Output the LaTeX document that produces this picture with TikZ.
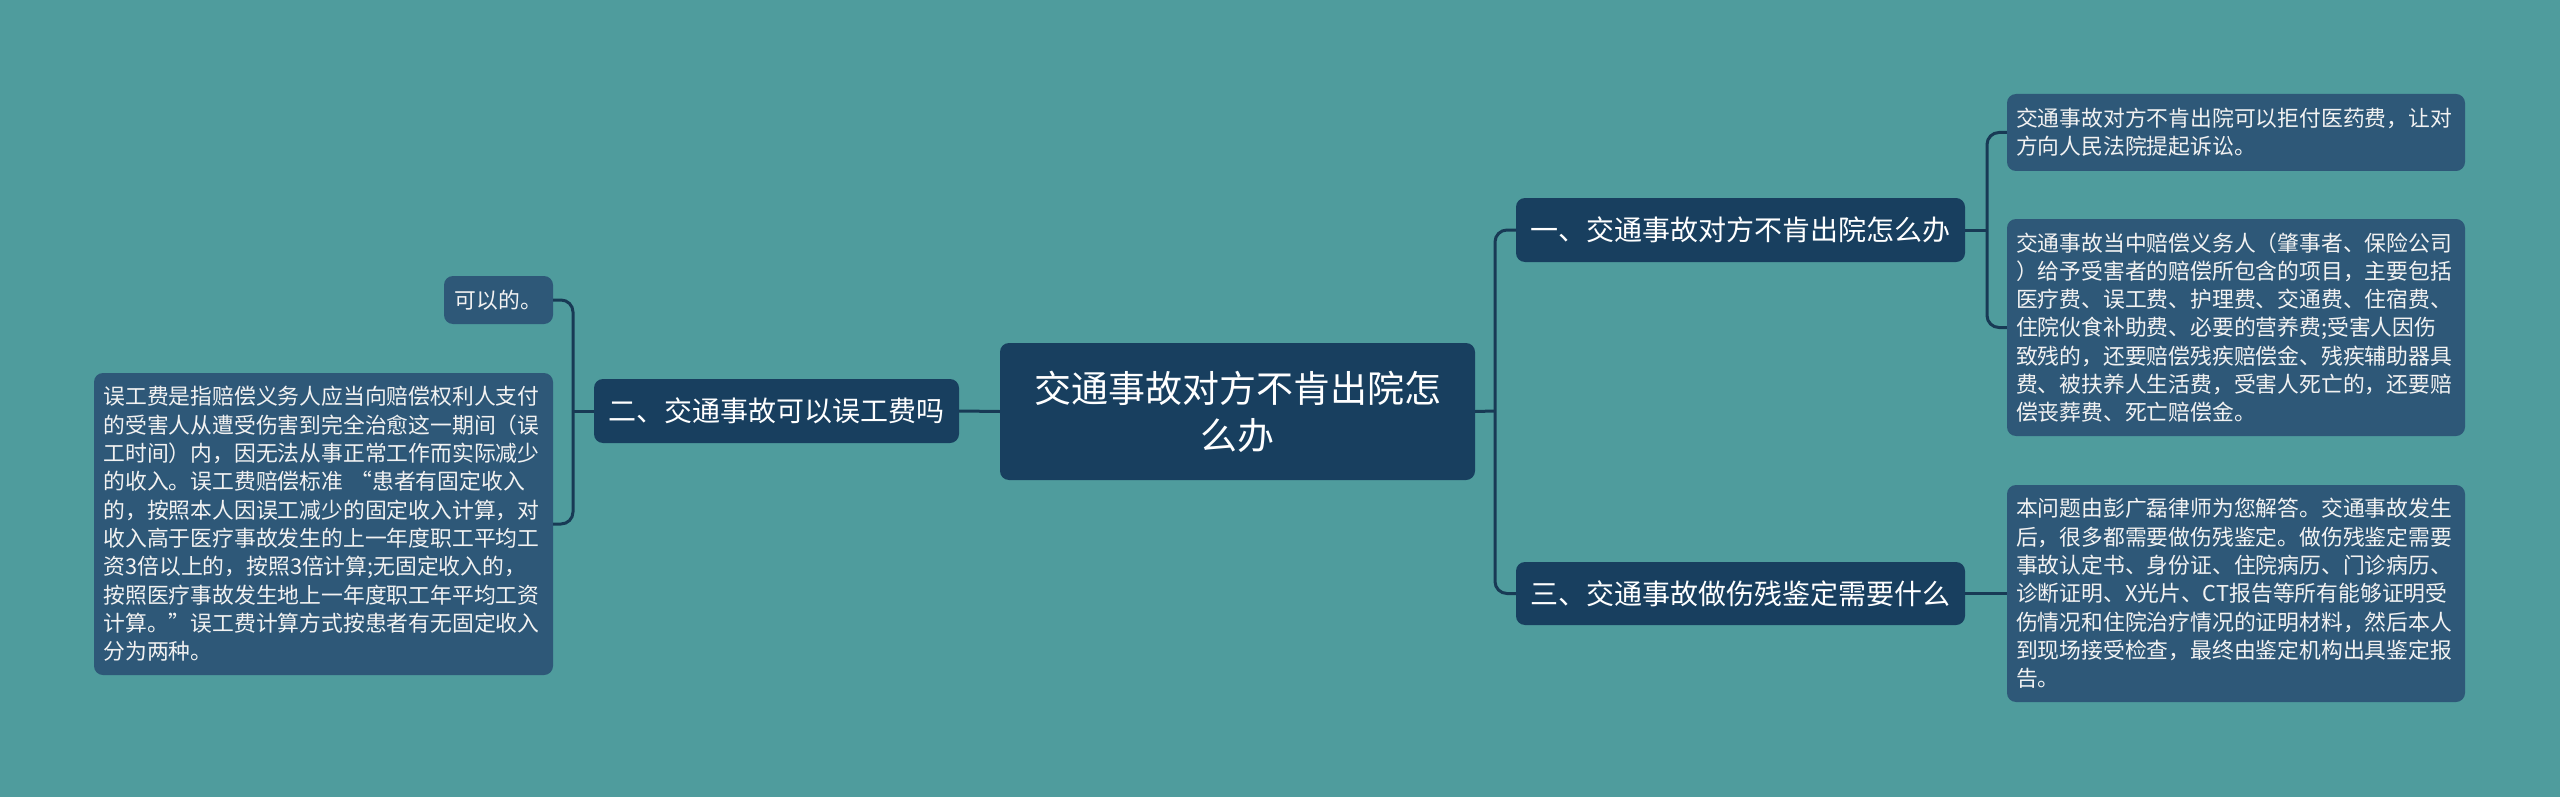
\documentclass[tikz,border=0pt]{standalone}
\usepackage{fontspec}
\setmainfont{Noto Sans CJK SC}
\definecolor{bg}{HTML}{4F9C9D}
\definecolor{dark}{HTML}{183F5F}
\definecolor{leafc}{HTML}{2E5878}
\definecolor{linec}{HTML}{183A55}
\tikzset{
  x=1pt, y=-1pt,
  conn/.style={draw=linec, line width=3pt, rounded corners=12pt},
  mainbox/.style={fill=dark, rounded corners=9pt, text=white, inner sep=0pt, align=center,
    font=\fontsize{37}{47}\selectfont},
  branchbox/.style={fill=dark, rounded corners=9pt, text=white, inner sep=0pt, align=center,
    font=\fontsize{28}{34}\selectfont},
  leafbox/.style={fill=leafc, rounded corners=9pt, text=white!95!black, inner sep=0pt, align=left,
    font=\fontsize{21.8}{28.3}\selectfont},
}
\begin{document}
\begin{tikzpicture}
\fill[bg] (0,0) rectangle (2560,797);
\useasboundingbox (0,0) rectangle (2560,797);

\node[mainbox, minimum width=475pt, minimum height=137pt] (c) at (1237.5,411.5)
  {交通事故对方不肯出院怎\\么办};

\node[branchbox, minimum width=449pt, minimum height=64pt] (b1) at (1740.5,230)
  {一、交通事故对方不肯出院怎么办};
\node[branchbox, minimum width=449pt, minimum height=63pt] (b3) at (1740.5,593.5)
  {三、交通事故做伤残鉴定需要什么};
\node[branchbox, minimum width=365pt, minimum height=64pt] (b2) at (776.5,411)
  {二、交通事故可以误工费吗};

\node[leafbox, text width=440pt, minimum width=458pt, minimum height=77pt] (r1) at (2236,132.5)
  {交通事故对方不肯出院可以拒付医药费，让对\\方向人民法院提起诉讼。};
\node[leafbox, text width=440pt, minimum width=458pt, minimum height=217pt] (r2) at (2236,327.5)
  {交通事故当中赔偿义务人（肇事者、保险公司\\）给予受害者的赔偿所包含的项目，主要包括\\医疗费、误工费、护理费、交通费、住宿费、\\住院伙食补助费、必要的营养费;受害人因伤\\致残的，还要赔偿残疾赔偿金、残疾辅助器具\\费、被扶养人生活费，受害人死亡的，还要赔\\偿丧葬费、死亡赔偿金。};
\node[leafbox, text width=440pt, minimum width=458pt, minimum height=217pt] (r3) at (2236,593.5)
  {本问题由彭广磊律师为您解答。交通事故发生\\后，很多都需要做伤残鉴定。做伤残鉴定需要\\事故认定书、身份证、住院病历、门诊病历、\\诊断证明、X光片、CT报告等所有能够证明受\\伤情况和住院治疗情况的证明材料，然后本人\\到现场接受检查，最终由鉴定机构出具鉴定报\\告。};

\node[leafbox, align=center, minimum width=109pt, minimum height=48pt] (l1) at (498.5,300)
  {可以的。};
\node[leafbox, text width=440pt, minimum width=459pt, minimum height=302pt] (l2) at (323.5,524)
  {误工费是指赔偿义务人应当向赔偿权利人支付\\的受害人从遭受伤害到完全治愈这一期间（误\\工时间）内，因无法从事正常工作而实际减少\\的收入。误工费赔偿标准 “患者有固定收入\\的，按照本人因误工减少的固定收入计算，对\\收入高于医疗事故发生的上一年度职工平均工\\资3倍以上的，按照3倍计算;无固定收入的，\\按照医疗事故发生地上一年度职工年平均工资\\计算。”误工费计算方式按患者有无固定收入\\分为两种。};

\coordinate (jr) at (1495,411);
\coordinate (jr1) at (1987,230);
\coordinate (jl) at (573,411);

\draw[conn] (c.east) -- (jr);
\draw[conn] (b1.west) -| (jr) |- (b3.west);
\draw[conn] (c.west) -- (b2.east);
\draw[conn] (b1.east) -- (jr1);
\draw[conn] (r1.west) -| (jr1) |- (r2.west);
\draw[conn] (b3.east) -- (r3.west);
\draw[conn] (b2.west) -- (jl);
\draw[conn] (l1.east) -| (jl) |- (l2.east);
\end{tikzpicture}
\end{document}
